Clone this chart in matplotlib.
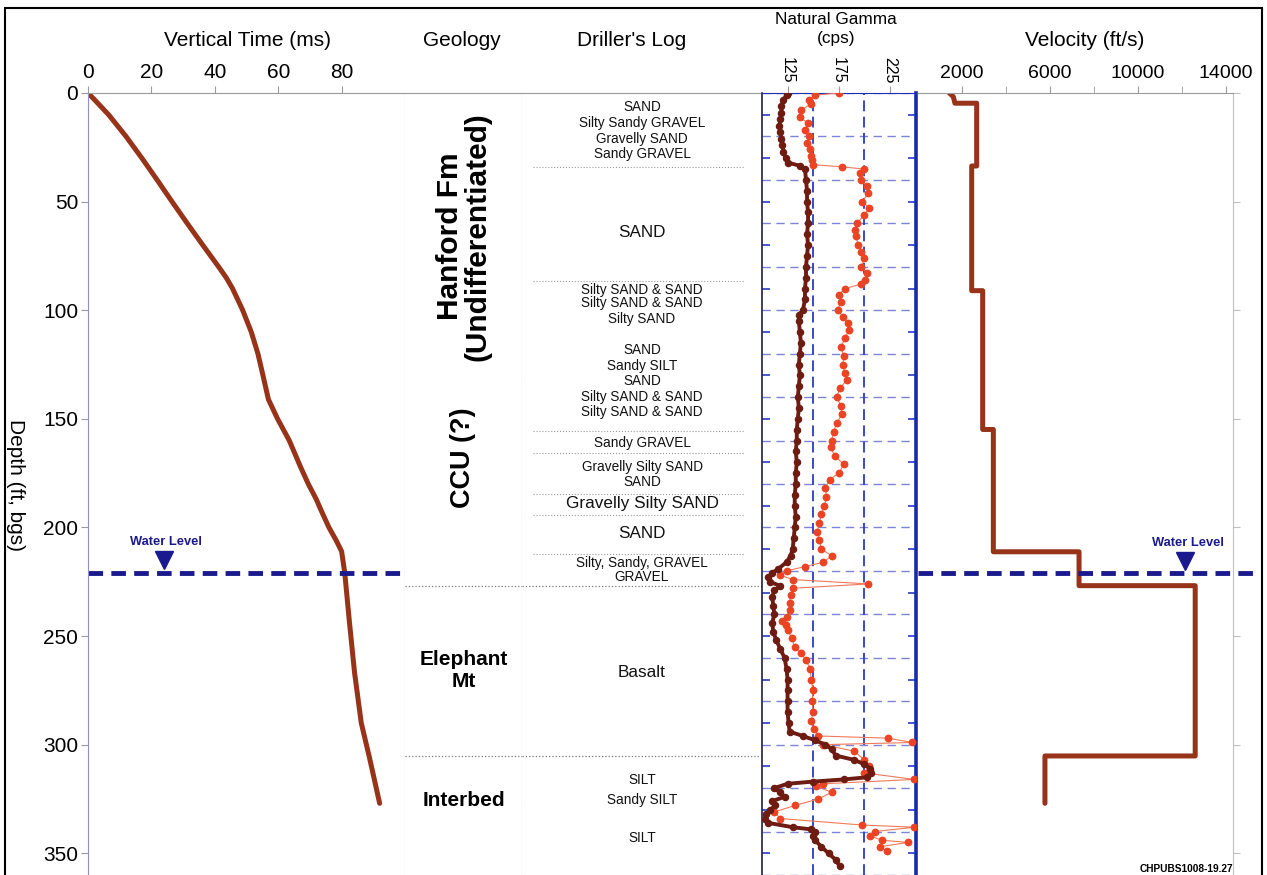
import matplotlib
matplotlib.use("Agg")
import matplotlib.pyplot as plt
from matplotlib.patches import Rectangle

plt.rcParams["font.family"] = ["Liberation Sans", "DejaVu Sans"]

time_depth = [0, 3, 10, 20, 30, 40, 50, 60, 70, 80, 85, 90, 100, 110, 120,
              130, 141, 150, 160, 172, 180, 187, 192, 200, 206, 211, 221,
              244, 267, 290, 306, 327]
time_ms = [0, 2, 6.5, 12, 17, 21.8, 26.5, 31.3, 36.2, 41.2, 43.6, 45.6, 48.8,
           51.5, 53.6, 55.2, 56.9, 59.8, 63.5, 67, 69.5, 72, 73.5, 76, 78.3,
           80, 81, 82.5, 84.1, 86.2, 88.8, 92]

vel_depth = [0, 1.7, 4.7, 4.7, 33.6, 33.6, 91, 91, 154.9, 154.9, 211.2,
             211.2, 226.8, 226.8, 305.2, 305.2, 327]
vel_fps = [1425, 1605, 1680, 2667, 2667, 2440, 2440, 2940, 2940, 3425, 3425,
           7320, 7320, 12600, 12600, 5770, 5770]

gam1_depth = [0, 1, 3, 6, 9, 12, 15, 18, 21, 24, 27, 30, 32, 33.5, 35, 40, 45,
              50, 55, 60, 65, 70, 75, 80, 85, 90, 95, 100, 102, 105, 110, 115,
              120, 125, 130, 135, 140, 145, 150, 155, 160, 165, 170, 175, 180,
              185, 190, 195, 200, 205, 210, 213, 216, 219, 221, 223, 225, 227,
              229, 232, 236, 240, 244, 248, 252, 256, 260, 265, 270, 275, 280,
              285, 290, 294, 296, 298, 300, 302, 305, 307, 309, 311, 313, 315,
              316, 317, 318, 320, 322, 324, 326, 328, 330, 332, 334, 336, 338,
              339, 340, 342, 344, 347, 350, 353, 356]
gam1_cps = [125, 124, 121, 119, 119, 118, 117, 118, 119, 120, 121, 123, 125,
            137, 142, 143, 144, 144, 145, 145, 144, 145, 144, 143, 143, 142,
            142, 140, 136, 136, 137, 138, 137, 136, 137, 136, 135, 136, 135,
            134, 134, 133, 134, 133, 133, 132, 132, 133, 132, 131, 130, 128,
            124, 116, 110, 106, 108, 118, 112, 110, 111, 112, 110, 111, 114,
            118, 122, 124, 125, 125, 125, 125, 126, 127, 140, 152, 162, 168,
            172, 190, 200, 206, 207, 203, 180, 150, 125, 112, 118, 122, 110,
            113, 108, 104, 103, 106, 130, 148, 152, 150, 152, 158, 165, 172,
            176]

gam2_depth = [0, 1, 3, 5, 8, 11, 14, 17, 20, 23, 26, 29, 31, 33, 34, 35, 37,
              40, 43, 46, 50, 53, 56, 60, 63, 66, 70, 73, 76, 80, 83, 86, 88,
              90, 93, 96, 100, 103, 106, 109, 113, 117, 121, 125, 129, 132,
              136, 140, 144, 148, 152, 156, 160, 163, 167, 171, 175, 178, 182,
              186, 190, 194, 198, 202, 206, 210, 213, 216, 218, 220, 222, 224,
              226, 228, 231, 235, 238, 241, 243, 245, 247, 251, 255, 258, 261,
              265, 270, 275, 280, 285, 289, 293, 296, 297, 299, 300, 303, 307,
              310, 313, 316, 318, 319, 322, 325, 328, 331, 334, 337, 338, 340,
              342, 344, 345, 347, 349]
gam2_cps = [175, 152, 146, 148, 138, 137, 145, 142, 146, 144, 147, 148, 149,
            150, 178, 200, 196, 197, 203, 204, 198, 205, 200, 193, 191, 192,
            194, 197, 200, 197, 203, 201, 197, 181, 175, 177, 174, 179, 184,
            185, 181, 177, 180, 179, 181, 183, 176, 173, 177, 178, 173, 170,
            168, 167, 171, 180, 175, 166, 162, 163, 161, 158, 156, 154, 156,
            158, 168, 160, 142, 124, 118, 130, 204, 130, 128, 127, 127, 124,
            120, 123, 125, 129, 132, 138, 143, 147, 148, 150, 149, 150, 148,
            151, 155, 223, 247, 160, 190, 200, 205, 200, 249, 160, 153, 168,
            155, 132, 112, 118, 198, 249, 210, 206, 217, 243, 215, 222]

water_level = 221

geo_units = ["Hanford Fm\n(Undifferentiated)", "CCU (?)", "Elephant\nMt",
             "Interbed"]
geo_label_depth = [66, 168, 266, 325.5]
geo_bounds = [227, 305]

drill_text = ["SAND", "Silty Sandy GRAVEL", "Gravelly SAND", "Sandy GRAVEL",
              "SAND", "Silty SAND & SAND", "Silty SAND & SAND", "Silty SAND",
              "SAND", "Sandy SILT", "SAND", "Silty SAND & SAND",
              "Silty SAND & SAND", "Sandy GRAVEL", "Gravelly Silty SAND",
              "SAND", "Gravelly Silty SAND", "SAND", "Silty, Sandy, GRAVEL",
              "GRAVEL", "Basalt", "SILT", "Sandy SILT", "SILT"]
drill_depth = [6.3, 13.9, 21.2, 28.2, 64.3, 90.7, 96.8, 104.2, 118.3, 125.7,
               132.4, 139.8, 146.7, 161.3, 172.0, 179.0, 189.2, 203.0, 216.5,
               223.0, 267.0, 316.3, 325.5, 343.0]
drill_big = {4, 16, 17, 20}
drill_bounds = [34.2, 86.4, 155.4, 165.9, 184.6, 194.2, 212.2]

W, H = 1267, 875
NAVY = "#1a1a8e"
CURVE = "#963319"
GRIDBLUE = "#2a3cc0"
GREY = "#9a9a9a"

fig = plt.figure(figsize=(W / 100, H / 100), dpi=100)


def px_axes(x0, x1, y0=93, y1=875):
    return fig.add_axes([x0 / W, 1 - y1 / H, (x1 - x0) / W, (y1 - y0) / H])


# ── vertical time ───────────────────────────────────────────────────
ax_t = px_axes(88, 405)
ax_t.plot(time_ms, time_depth, color=CURVE, lw=3.6, solid_capstyle="round",
          solid_joinstyle="round")
ax_t.set_xlim(0, 100)
ax_t.set_ylim(360, 0)
ax_t.xaxis.tick_top()
ax_t.set_xticks([0, 20, 40, 60, 80])
ax_t.set_yticks(range(0, 351, 50))
ax_t.tick_params(axis="x", length=5, color=GREY, labelsize=15, pad=3)
ax_t.tick_params(axis="y", length=5, color=GREY, labelsize=15, pad=2)
ax_t.spines["top"].set_color(GREY)
ax_t.spines["top"].set_linewidth(0.8)
ax_t.spines["left"].set_color("#9090cc")
ax_t.spines["left"].set_linewidth(0.8)
ax_t.spines["right"].set_linestyle(":")
ax_t.spines["right"].set_color(GREY)
ax_t.spines["bottom"].set_visible(False)
ax_t.axhline(water_level, color=NAVY, lw=3.5, dashes=(3, 1.7))
ax_t.plot([24], [water_level - 6], marker="v", ms=13, color=NAVY)
ax_t.text(24.5, water_level - 14.5, "Water Level", color=NAVY, fontsize=9.3,
          fontweight="bold", ha="center", va="center")

# ── geology column ──────────────────────────────────────────────────
ax_geo = px_axes(405, 522)
ax_geo.set_xlim(0, 1)
ax_geo.set_ylim(360, 0)
ax_geo.set_xticks([])
ax_geo.set_yticks([])
for name, d in zip(geo_units, geo_label_depth):
    if name.startswith("Hanford"):
        size, rot, spacing = 21.5, 90, 1.0
    elif name.startswith("CCU"):
        size, rot, spacing = 19.5, 90, 1.0
    else:
        size, rot, spacing = 15, 0, 1.2
    ax_geo.text(0.5, d, name, rotation=rot, fontsize=size, fontweight="bold",
                ha="center", va="center", multialignment="center",
                linespacing=spacing)

# ── driller's log ───────────────────────────────────────────────────
ax_dl = px_axes(522, 762)
ax_dl.set_xlim(0, 1)
ax_dl.set_ylim(360, 0)
ax_dl.set_xticks([])
ax_dl.set_yticks([])
for i, (txt, d) in enumerate(zip(drill_text, drill_depth)):
    ax_dl.text(0.5, d, txt, fontsize=12.3 if i in drill_big else 9.8,
               ha="center", va="center", color="#111111")
for d in drill_bounds:
    ax_dl.axhline(d, xmin=0.045, xmax=0.93, color=GREY, lw=0.8, ls=":")
for ax in (ax_geo, ax_dl):
    for d in geo_bounds:
        ax.axhline(d, color="#7a7a7a", lw=0.9, ls=":")
    ax.spines["top"].set_color(GREY)
    ax.spines["top"].set_linewidth(0.8)
    ax.spines["bottom"].set_visible(False)
    ax.spines["left"].set_visible(False)
    ax.spines["right"].set_visible(False)
ax_geo.spines["right"].set_visible(True)
ax_geo.spines["right"].set_linestyle(":")
ax_geo.spines["right"].set_color(GREY)

# ── natural gamma ───────────────────────────────────────────────────
ax_g = px_axes(762, 916)
ax_g.set_xlim(100, 250.5)
ax_g.set_ylim(360, 0)
ax_g.set_yticks(range(0, 361, 20))
ax_g.set_yticks(range(10, 360, 20), minor=True)
ax_g.yaxis.set_ticklabels([])
ax_g.tick_params(axis="y", which="major", length=0)
ax_g.tick_params(axis="y", which="minor", direction="in", length=6,
                 width=1.2, color=GRIDBLUE, left=True, right=True)
ax_g.grid(axis="y", which="major", color="#5a66d0", lw=1.0, dashes=(6, 4),
          alpha=0.8)
for v in (150, 200):
    ax_g.axvline(v, color=GRIDBLUE, lw=1.3, dashes=(6, 3))
ax_g.xaxis.tick_top()
ax_g.set_xticks([125, 175, 225])
ax_g.tick_params(axis="x", length=5, color=GREY, labelsize=11.5, pad=2,
                 labelrotation=-90)
ax_g.plot(gam2_cps, gam2_depth, color="#f07a58", lw=0.8, marker="o", ms=4.6,
          mfc="#ea4424", mec="#ea4424", zorder=3)
ax_g.plot(gam1_cps, gam1_depth, color="#6e1c12", lw=2.8, marker="o", ms=4.4,
          zorder=4)
ax_g.spines["left"].set_color("#202040")
ax_g.spines["left"].set_linewidth(1.2)
ax_g.spines["top"].set_color("#2030b0")
ax_g.spines["right"].set_color("#1a2aa8")
ax_g.spines["right"].set_linewidth(2.6)
ax_g.spines["bottom"].set_visible(False)

# ── velocity ────────────────────────────────────────────────────────
ax_v = px_axes(918, 1233)
ax_v.plot(vel_fps, vel_depth, color=CURVE, lw=3.6, solid_capstyle="round",
          solid_joinstyle="round")
ax_v.set_xlim(0, 14318)
ax_v.set_ylim(360, 0)
ax_v.xaxis.tick_top()
ax_v.set_xticks([2000, 6000, 10000, 14000])
ax_v.set_xticks([4000, 8000, 12000], minor=True)
ax_v.tick_params(axis="x", which="both", length=5, color=GREY, labelsize=14,
                 pad=3)
ax_v.yaxis.tick_right()
ax_v.set_yticks(range(0, 351, 50))
ax_v.yaxis.set_ticklabels([])
ax_v.tick_params(axis="y", length=5, color="#c0c0c0")
ax_v.spines["top"].set_color(GREY)
ax_v.spines["top"].set_linewidth(0.8)
ax_v.spines["right"].set_color("#c0c0c0")
ax_v.spines["right"].set_linewidth(0.8)
ax_v.spines["left"].set_visible(False)
ax_v.spines["bottom"].set_visible(False)
ax_v.plot([0, 15640], [water_level, water_level], color=NAVY, lw=3.5,
          dashes=(3, 1.7), clip_on=False)
ax_v.plot([12150], [water_level - 5.5], marker="v", ms=13, color=NAVY)
ax_v.text(12270, water_level - 13.8, "Water Level", color=NAVY, fontsize=9.3,
          fontweight="bold", ha="center", va="center")

# ── headers and frame ───────────────────────────────────────────────
fig.text(247 / W, 1 - 40 / H, "Vertical Time (ms)", fontsize=15,
         ha="center", va="center")
fig.text(462 / W, 1 - 40 / H, "Geology", fontsize=15, ha="center",
         va="center")
fig.text(632 / W, 1 - 40 / H, "Driller's Log", fontsize=15, ha="center",
         va="center")
fig.text(836 / W, 1 - 19 / H, "Natural Gamma", fontsize=12.4, ha="center",
         va="center")
fig.text(836 / W, 1 - 38 / H, "(cps)", fontsize=12.4, ha="center",
         va="center")
fig.text(1085 / W, 1 - 40 / H, "Velocity (ft/s)", fontsize=15, ha="center",
         va="center")
fig.text(15 / W, 1 - 485 / H, "Depth (ft, bgs)", fontsize=15, rotation=-90,
         ha="center", va="center")
fig.text(1233 / W, 1 - 869 / H, "CHPUBS1008-19.27", fontsize=7.3,
         fontweight="bold", ha="right", va="center")
fig.add_artist(Rectangle((5 / W, -0.01), 1257 / W, 1 - 8 / H + 0.01,
                         transform=fig.transFigure, fill=False,
                         edgecolor="black", lw=1.5))

fig.savefig("out.png", dpi=100)
